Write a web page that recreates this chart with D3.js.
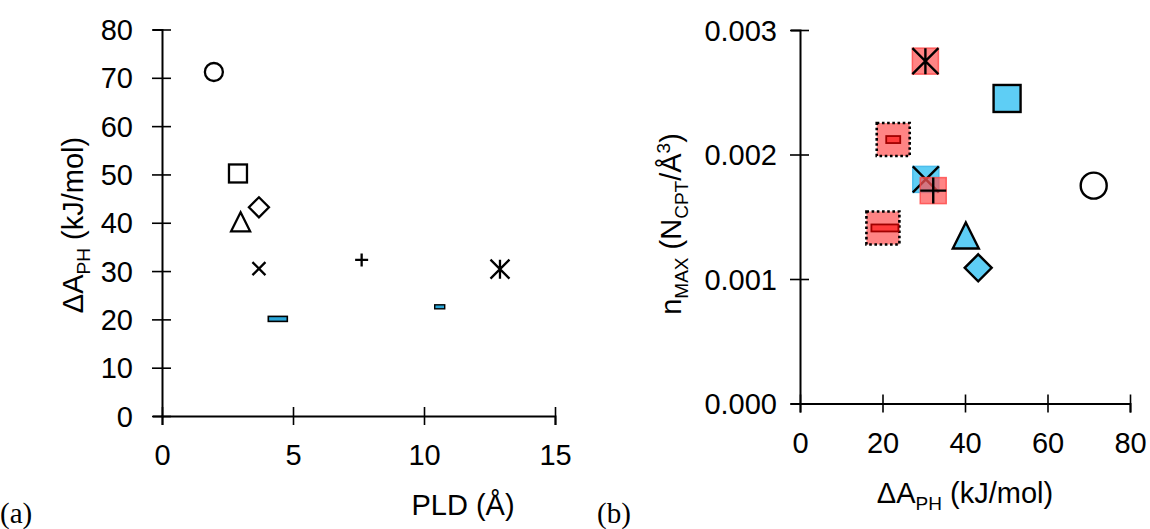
<!DOCTYPE html>
<html>
<head>
<meta charset="utf-8">
<script src="https://cdn.jsdelivr.net/npm/d3@7"></script>
<style>
  html, body { margin: 0; padding: 0; background: #fff; }
  svg { display: block; }
  text { font-family: "Liberation Sans", Arial, sans-serif; fill: #000; }
  .panel-tag { font-family: "Liberation Serif", "Times New Roman", serif; }
</style>
</head>
<body>
<svg id="chart" width="1150" height="529"></svg>
<script>
// Materials, one marker shape each
const markerKeys   = ["circle", "square", "triangle", "diamond", "cross", "minusWide", "plus", "minusSmall", "asterisk"];
// Pore limiting diameter (Å)
const pldValues    = [1.98, 2.9, 3.0, 3.7, 3.7, 4.42, 7.62, 10.6, 12.9];
// Adsorption free-energy difference ΔA_PH (kJ/mol)
const deltaAValues = [71.2, 50.2, 40.2, 43.2, 30.5, 20.1, 32.3, 22.6, 30.4];
// Maximum CPT number density (N_CPT / Å^3)
const nMaxValues   = [0.00175, 0.00245, 0.00135, 0.00109, 0.0018, 0.00141, 0.00171, 0.00212, 0.00275];

// Tick values
const pldTicks     = [0, 5, 10, 15];
const deltaATicksA = [0, 10, 20, 30, 40, 50, 60, 70, 80];
const deltaATicksB = [0, 20, 40, 60, 80];
const nMaxTicks    = [0, 0.001, 0.002, 0.003];

const BLUE = "#5ecef5";
const RED_FILL = "rgba(255, 84, 84, 0.72)";
const FONT_PX = 29;

const svg = d3.select("#chart");

// ---------- scales ----------
const xA = d3.scaleLinear().domain([0, 15]).range([162, 555]);
const yA = d3.scaleLinear().domain([0, 80]).range([416, 29.5]);
const xB = d3.scaleLinear().domain([0, 80]).range([800, 1130]);
const yB = d3.scaleLinear().domain([0, 0.003]).range([403.5, 30]);

// ---------- axes with ticks crossing the axis line ----------
function styleAxis(g) {
  g.select(".domain").attr("stroke", "#000").attr("stroke-width", 2);
  g.selectAll(".tick line").attr("stroke", "#000").attr("stroke-width", 1.6);
  g.selectAll(".tick text").attr("font-size", FONT_PX).attr("font-family", "Liberation Sans, Arial, sans-serif");
}

function bottomAxis(x, y, ticks, fmt, labelY) {
  const g = svg.append("g").attr("transform", `translate(0,${y.range()[0]})`)
    .call(d3.axisBottom(x).tickValues(ticks).tickSizeOuter(0).tickSize(9).tickFormat(fmt));
  g.selectAll(".tick line").attr("y1", -9).attr("y2", 9);
  g.selectAll(".tick text").attr("y", labelY).attr("dy", "0.35em");
  styleAxis(g);
}
function leftAxis(x, y, ticks, fmt, labelX) {
  const g = svg.append("g").attr("transform", `translate(${x.range()[0]},0)`)
    .call(d3.axisLeft(y).tickValues(ticks).tickSizeOuter(0).tickSize(9).tickFormat(fmt));
  g.selectAll(".tick line").attr("x1", -10).attr("x2", 9);
  g.selectAll(".tick text").attr("x", labelX).attr("dy", "0.35em");
  styleAxis(g);
}

bottomAxis(xA, yA, pldTicks, d3.format("d"), 39);
leftAxis(xA, yA, deltaATicksA, d3.format("d"), -29);
bottomAxis(xB, yB, deltaATicksB, d3.format("d"), 39.5);
leftAxis(xB, yB, nMaxTicks, d3.format(".3f"), -23);

// ---------- axis titles ----------
function deltaATitle(sel) {
  sel.append("tspan").text("ΔA");
  sel.append("tspan").attr("font-size", 19).attr("dy", 7).text("PH");
  sel.append("tspan").attr("dy", -7).text(" (kJ/mol)");
}

svg.append("text").attr("x", 463).attr("y", 515).attr("font-size", FONT_PX)
  .attr("text-anchor", "middle").text("PLD (Å)");

svg.append("text").attr("transform", "translate(83,225) rotate(-90)").attr("font-size", FONT_PX)
  .attr("text-anchor", "middle").call(deltaATitle);

svg.append("text").attr("x", 965).attr("y", 503).attr("font-size", FONT_PX)
  .attr("text-anchor", "middle").call(deltaATitle);

const nTitle = svg.append("text").attr("transform", "translate(681,224) rotate(-90)")
  .attr("font-size", FONT_PX).attr("text-anchor", "middle");
nTitle.append("tspan").text("n");
nTitle.append("tspan").attr("font-size", 19).attr("dy", 7).text("MAX");
nTitle.append("tspan").attr("dy", -7).text(" (N");
nTitle.append("tspan").attr("font-size", 19).attr("dy", 7).text("CPT");
nTitle.append("tspan").attr("dy", -7).text("/Å");
nTitle.append("tspan").attr("font-size", 19).attr("dy", -11).text("3");
nTitle.append("tspan").attr("dy", 11).text(")");

svg.append("text").attr("class", "panel-tag").attr("x", 0).attr("y", 523)
  .attr("font-size", 29).text("(a)");
svg.append("text").attr("class", "panel-tag").attr("x", 597).attr("y", 523)
  .attr("font-size", 29).text("(b)");

// ---------- marker glyphs ----------
function glyph(g, key, s, sw, opts) {
  const h = s / 2;
  const stroke = "#000";
  switch (key) {
    case "circle":
      g.append("circle").attr("r", h).attr("fill", opts.fill || "none")
        .attr("stroke", stroke).attr("stroke-width", sw);
      break;
    case "square":
      g.append("rect").attr("x", -h).attr("y", -h).attr("width", s).attr("height", s)
        .attr("fill", opts.fill || "none").attr("stroke", stroke).attr("stroke-width", sw);
      break;
    case "triangle":
      g.append("path").attr("d", `M0,${-h}L${h},${h}L${-h},${h}Z`)
        .attr("fill", opts.fill || "none").attr("stroke", stroke).attr("stroke-width", sw)
        .attr("stroke-linejoin", "miter");
      break;
    case "diamond":
      g.append("path").attr("d", `M0,${-h}L${h},0L0,${h}L${-h},0Z`)
        .attr("fill", opts.fill || "none").attr("stroke", stroke).attr("stroke-width", sw);
      break;
    case "cross":
      g.append("path").attr("d", `M${-h},${-h}L${h},${h}M${h},${-h}L${-h},${h}`)
        .attr("stroke", stroke).attr("stroke-width", sw).attr("fill", "none");
      break;
    case "plus":
      g.append("path").attr("d", `M${-h},0L${h},0M0,${-h}L0,${h}`)
        .attr("stroke", stroke).attr("stroke-width", sw).attr("fill", "none");
      break;
    case "asterisk":
      g.append("path").attr("d", `M${-h},${-h}L${h},${h}M${h},${-h}L${-h},${h}M0,${-h}L0,${h}`)
        .attr("stroke", stroke).attr("stroke-width", sw).attr("fill", "none");
      break;
  }
}

// minus bar marker
function bar(g, w, hgt, fill, stroke, sw, dx) {
  g.append("rect").attr("x", -w / 2 + (dx || 0)).attr("y", -hgt / 2)
    .attr("width", w).attr("height", hgt)
    .attr("fill", fill).attr("stroke", stroke).attr("stroke-width", sw);
}

const points = markerKeys.map((key, i) => ({
  key, pld: pldValues[i], dA: deltaAValues[i], n: nMaxValues[i]
}));

// ---------- panel (a): ΔA_PH vs PLD ----------
const sizeA = { circle: 18, square: 18, triangle: 19, diamond: 20, cross: 13, plus: 13, asterisk: 19 };
const gA = svg.append("g");
points.forEach(p => {
  const g = gA.append("g").attr("transform", `translate(${xA(p.pld)},${yA(p.dA)})`);
  if (p.key === "minusWide") bar(g, 19, 5, "#2aa6d8", "#000", 1.6);
  else if (p.key === "minusSmall") bar(g, 10, 4, "#2aa6d8", "#000", 1.4);
  else glyph(g, p.key, sizeA[p.key], 2.3, {});
});

// ---------- panel (b): n_MAX vs ΔA_PH ----------
const drawOrderB = ["minusSmall", "asterisk", "square", "minusWide", "cross", "plus", "triangle", "diamond", "circle"];
const gB = svg.append("g");
drawOrderB.forEach(key => {
  const p = points.find(d => d.key === key);
  const g = gB.append("g").attr("transform", `translate(${xB(p.dA)},${yB(p.n)})`);
  switch (key) {
    case "circle":   glyph(g, "circle", 26, 2.4, { fill: "#fff" }); break;
    case "square":   glyph(g, "square", 27, 2.4, { fill: BLUE }); break;
    case "triangle": glyph(g, "triangle", 26, 2.4, { fill: BLUE }); break;
    case "diamond":  glyph(g, "diamond", 27, 2.4, { fill: BLUE }); break;
    case "cross":
      g.append("rect").attr("x", -13).attr("y", -13).attr("width", 26).attr("height", 26)
        .attr("fill", BLUE).attr("stroke", "#4cbdec").attr("stroke-width", 1.5);
      glyph(g, "cross", 26, 2.4, {});
      break;
    case "plus":
    case "asterisk":
      g.append("rect").attr("x", -13).attr("y", -13).attr("width", 26).attr("height", 26)
        .attr("fill", RED_FILL).attr("stroke", "rgba(255,70,70,0.8)").attr("stroke-width", 1.5);
      glyph(g, key, 26, 2.4, {});
      break;
    case "minusWide":
    case "minusSmall":
      g.append("rect").attr("x", -16.5).attr("y", -16.5).attr("width", 33).attr("height", 33)
        .attr("fill", RED_FILL).attr("stroke", "#000").attr("stroke-width", 2.6)
        .attr("stroke-dasharray", "2.6,2.6");
      if (key === "minusWide") bar(g, 27, 7, "#ff3b3b", "#a00000", 1.8, 2);
      else bar(g, 14, 7, "#ff3b3b", "#a00000", 1.8);
      break;
  }
});
</script>
</body>
</html>
